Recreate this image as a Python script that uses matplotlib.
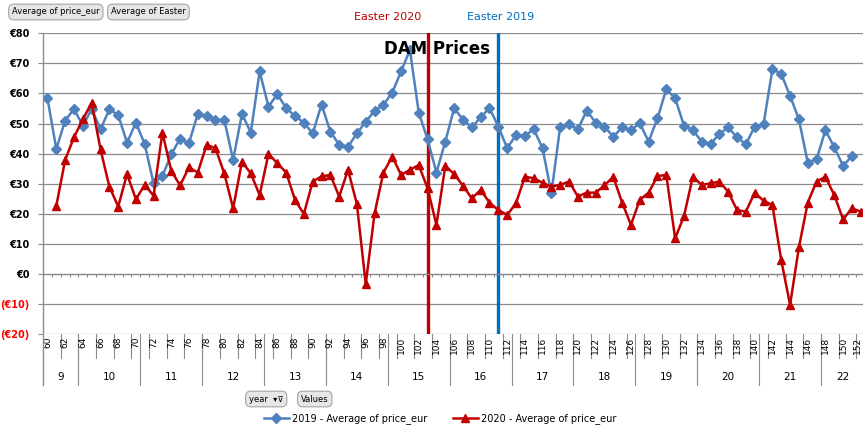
import numpy as np
import matplotlib
matplotlib.use("Agg")
import matplotlib.pyplot as plt
from matplotlib.lines import Line2D
import matplotlib.transforms as mtransforms

# day of year for each series
days_2019 = list(range(60, 152))
days_2020 = list(range(61, 153))

price_2019 = [58.4, 41.5, 51.0, 54.8, 49.3, 54.8, 48.1, 54.7, 52.8, 43.6,
              50.3, 43.1, 30.1, 32.5, 39.8, 44.9, 43.4, 53.2, 52.5, 51.2,
              51.2, 37.9, 53.2, 47.0, 67.3, 55.6, 59.8, 55.1, 52.5, 50.3,
              46.7, 56.3, 47.3, 42.9, 42.3, 46.7, 50.6, 54.2, 56.2, 60.3,
              67.3, 74.5, 53.6, 44.7, 33.7, 44.0, 55.1, 51.3, 48.7, 52.1,
              55.1, 49.0, 41.8, 46.2, 45.9, 48.1, 41.8, 26.8, 49.0, 49.7,
              48.1, 54.3, 50.3, 49.0, 45.6, 48.7, 47.8, 50.1, 44.0, 51.7,
              61.4, 58.4, 49.3, 47.8, 44.0, 43.2, 46.5, 48.7, 45.4, 43.1,
              49.0, 49.8, 68.0, 66.5, 59.2, 51.4, 37.0, 38.1, 47.8, 42.1,
              35.9, 39.2]

price_2020 = [22.6, 37.9, 45.4, 51.4, 56.9, 41.4, 29.0, 22.4, 33.2, 24.8,
              29.6, 26.0, 47.0, 34.3, 29.4, 35.4, 33.7, 42.9, 41.8, 33.4,
              21.8, 37.3, 33.4, 26.2, 39.9, 36.8, 33.7, 24.6, 19.9, 30.7,
              32.4, 32.9, 25.7, 34.6, 23.2, -3.4, 20.1, 33.7, 39.0, 32.9,
              34.6, 36.2, 28.4, 16.3, 35.9, 33.2, 29.3, 25.1, 27.9, 23.7,
              21.2, 19.6, 23.5, 32.3, 31.8, 30.3, 29.0, 29.6, 30.7, 25.7,
              27.0, 27.0, 29.4, 32.3, 23.7, 16.3, 24.6, 27.0, 32.5, 32.9,
              11.8, 19.2, 32.3, 29.6, 30.1, 30.7, 27.3, 21.2, 20.7, 27.0,
              24.3, 22.9, 4.6, -10.3, 8.8, 23.7, 30.7, 32.3, 26.2, 18.1,
              21.8, 20.7]

weeks = [9, 10, 11, 12, 13, 14, 15, 16, 17, 18, 19, 20, 21, 22]
week_first_day = [60, 64, 71, 78, 85, 92, 99, 106, 113, 120, 127, 134, 141, 148]
last_day = 152

easter_days = [103.1, 111]
easter_labels = ['Easter 2020', 'Easter 2019']
easter_colors = ['#C00000', '#0070C0']

y_ticks = [-20, -10, 0, 10, 20, 30, 40, 50, 60, 70, 80]

W, H = 863, 429
fig = plt.figure(figsize=(W / 100, H / 100), dpi=100)
fig.patch.set_facecolor('white')

def fx(px):
    return px / W

def fy(py):
    return 1 - py / H

ax_left, ax_top, ax_bottom = 42.7, 33.3, 334.0
ax = fig.add_axes([fx(ax_left), fy(ax_bottom), 1 - fx(ax_left), (ax_bottom - ax_top) / H])
ax.set_xlim(59.46, 152.25)
ax.set_ylim(-20, 80)

grid_c = '#8C8C8C'
for s in ['top', 'right', 'bottom', 'left']:
    ax.spines[s].set_visible(False)

ax.set_yticks(y_ticks)
labels = []
for v in y_ticks:
    labels.append('(€%d)' % abs(v) if v < 0 else '€%d' % v)
ax.set_yticklabels(labels, fontsize=7, fontweight='bold')
for lab, v in zip(ax.get_yticklabels(), y_ticks):
    lab.set_color('#FF0000' if v < 0 else 'black')
ax.tick_params(axis='y', length=3.5, color=grid_c, pad=6, width=0.8)
ax.set_xticks([])
ax.yaxis.grid(True, color=grid_c, linewidth=0.9)
ax.set_axisbelow(True)

# horizontal axis at zero with small category ticks
ax.axhline(0, color=grid_c, linewidth=0.9)
ax.vlines(np.arange(60.5, 152.5, 1), -1.1, 0, color=grid_c, linewidth=0.8)

# easter markers
for d, c in zip(easter_days, easter_colors):
    ax.axvline(d, color=c, linewidth=2.4, zorder=1.5)

ax.plot(days_2019, price_2019, color='#4F81BD', linewidth=1.8, marker='D',
        markersize=4.8, label='2019 - Average of price_eur', zorder=3)
ax.plot(days_2020, price_2020, color='#C00000', linewidth=1.8, marker='^',
        markersize=6, label='2020 - Average of price_eur', zorder=3)

# category labels (two levels) under the plot
trans = mtransforms.blended_transform_factory(ax.transData, fig.transFigure)
for d in range(60, last_day + 1, 2):
    ax.text(min(d, 151.6), fy(337), str(d), transform=trans, rotation=90, fontsize=6.5,
            ha='center', va='top', clip_on=False)
for d in np.arange(61.5, last_day, 2):
    ax.add_line(Line2D([d, d], [fy(334), fy(358)], transform=trans, color=grid_c,
                       linewidth=0.8, clip_on=False))
week_ends = week_first_day[1:] + [last_day + 1]
for w, s, e in zip(weeks, week_first_day, week_ends):
    ax.text((s - 0.5 + e - 0.5) / 2, fy(377), str(w), transform=trans, fontsize=7.5,
            ha='center', va='center', clip_on=False)
    if s > 60:
        ax.add_line(Line2D([s - 0.5, s - 0.5], [fy(334), fy(385)], transform=trans,
                           color=grid_c, linewidth=0.8, clip_on=False))
fig.add_artist(Line2D([fx(ax_left), fx(ax_left)], [fy(ax_top), fy(385)],
                      color=grid_c, linewidth=1.0))

# titles
fig.text(fx(437), fy(49), 'DAM Prices', fontsize=12, fontweight='bold',
         ha='center', va='center')
for lab, c, px in zip(easter_labels, easter_colors, [388, 501]):
    fig.text(fx(px), fy(17), lab, color=c, fontsize=8, ha='center', va='center')

# pivot buttons
btn = dict(boxstyle='round,pad=0.4,rounding_size=0.6', fc='#E6E6E6', ec='#A6A6A6', lw=0.8)
fig.text(fx(12), fy(12), 'Average of price_eur', fontsize=6, ha='left', va='center', bbox=btn)
fig.text(fx(111), fy(12), 'Average of Easter', fontsize=6, ha='left', va='center', bbox=btn)
fig.text(fx(249), fy(399), 'year  ▾⊽', fontsize=6, ha='left', va='center', bbox=btn)
fig.text(fx(301), fy(399), 'Values', fontsize=6, ha='left', va='center', bbox=btn)

fig.legend(loc='center', bbox_to_anchor=(fx(440), fy(419)), ncol=2, frameon=False,
           fontsize=7, handlelength=2.6, columnspacing=2.6, handletextpad=0.3)

fig.savefig('out.png', dpi=100)
